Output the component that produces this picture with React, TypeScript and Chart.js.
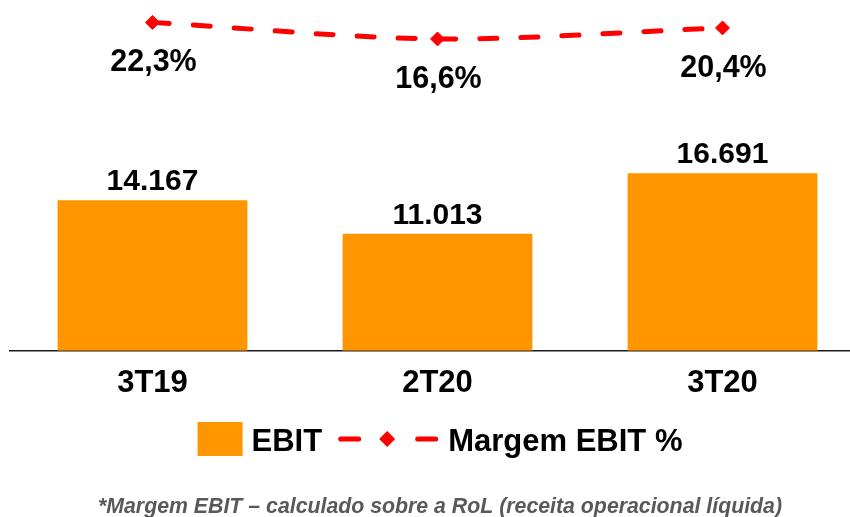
import React, { useEffect, useRef } from 'react';
import { Chart, registerables } from 'chart.js';

Chart.register(...registerables);

const categories = ['3T19', '2T20', '3T20'];
const ebitValues = [14167, 11013, 16691];
const marginValues = [22.3, 16.6, 20.4];
const ebitLabel = 'EBIT';
const marginLabel = 'Margem EBIT %';
const footnote = '*Margem EBIT – calculado sobre a RoL (receita operacional líquida)';

const ORANGE = '#FF9600';
const RED = '#FF0000';
const FONT = '"Liberation Sans", Arial, Helvetica, sans-serif';

function fmtThousands(v: number): string {
  return String(v).replace(/\B(?=(\d{3})+(?!\d))/g, '.');
}
function fmtPct(v: number): string {
  return v.toFixed(1).replace('.', ',') + '%';
}

const labelsPlugin = {
  id: 'valueLabels',
  afterDatasetsDraw(chart: any) {
    const ctx = chart.ctx;
    ctx.save();
    ctx.fillStyle = '#000';
    ctx.textAlign = 'center';
    ctx.textBaseline = 'alphabetic';
    ctx.font = `bold 30px ${FONT}`;
    const barMeta = chart.getDatasetMeta(0);
    barMeta.data.forEach((el: any, i: number) => {
      ctx.fillText(fmtThousands(ebitValues[i]), el.x, el.y - 10);
    });
    ctx.font = `bold 30.5px ${FONT}`;
    const lineMeta = chart.getDatasetMeta(1);
    lineMeta.data.forEach((el: any, i: number) => {
      ctx.fillText(fmtPct(marginValues[i]), el.x + 1, el.y + 49);
    });
    ctx.restore();
  },
};

const legendPlugin = {
  id: 'customLegend',
  afterDraw(chart: any) {
    const ctx = chart.ctx;
    const cx = 440;
    const cy = 439;
    ctx.save();
    ctx.font = `bold 31px ${FONT}`;
    const w1 = ctx.measureText(ebitLabel).width;
    const w2 = ctx.measureText(marginLabel).width;
    const boxW = 45, boxH = 34, gapA = 9, gapB = 16, symW = 100, gapC = 10;
    const total = boxW + gapA + w1 + gapB + symW + gapC + w2;
    let x = cx - total / 2;
    ctx.fillStyle = ORANGE;
    ctx.fillRect(x, cy - boxH / 2, boxW, boxH);
    x += boxW + gapA;
    ctx.fillStyle = '#000';
    ctx.textAlign = 'left';
    ctx.textBaseline = 'alphabetic';
    ctx.fillText(ebitLabel, x, cy + 11.5);
    x += w1 + gapB;
    ctx.strokeStyle = RED;
    ctx.lineWidth = 5;
    ctx.lineCap = 'round';
    ctx.beginPath();
    ctx.moveTo(x + 2.5, cy);
    ctx.lineTo(x + 20.5, cy);
    ctx.moveTo(x + symW - 20.5, cy);
    ctx.lineTo(x + symW - 2.5, cy);
    ctx.stroke();
    const dx = x + symW / 2 - 1;
    ctx.fillStyle = RED;
    ctx.beginPath();
    ctx.moveTo(dx - 8, cy);
    ctx.lineTo(dx, cy - 8);
    ctx.lineTo(dx + 8, cy);
    ctx.lineTo(dx, cy + 8);
    ctx.closePath();
    ctx.fill();
    x += symW + gapC;
    ctx.fillStyle = '#000';
    ctx.fillText(marginLabel, x, cy + 11.5);
    ctx.font = `italic bold 21.3px ${FONT}`;
    ctx.fillStyle = '#595959';
    ctx.textAlign = 'center';
    ctx.fillText(footnote, cx, 513);
    ctx.restore();
  },
};

export default function App() {
  const canvasRef = useRef<HTMLCanvasElement | null>(null);

  useEffect(() => {
    const canvas = canvasRef.current;
    if (!canvas) return;
    const chart = new Chart(canvas, {
      type: 'bar',
      data: {
        labels: categories,
        datasets: [
          {
            type: 'bar',
            label: ebitLabel,
            data: ebitValues,
            backgroundColor: ORANGE,
            borderWidth: 0,
            categoryPercentage: 1,
            barPercentage: 0.666,
            yAxisID: 'y',
            order: 2,
          },
          {
            type: 'line',
            label: marginLabel,
            data: marginValues,
            borderColor: RED,
            backgroundColor: RED,
            borderWidth: 5,
            borderDash: [17, 24],
            borderCapStyle: 'round',
            tension: 0.3,
            pointStyle: 'rectRot',
            pointRadius: 7,
            pointBorderWidth: 1,
            pointBorderColor: RED,
            pointBackgroundColor: RED,
            fill: false,
            clip: false,
            yAxisID: 'y1',
            order: 1,
          },
        ],
      },
      options: {
        responsive: false,
        animation: false,
        maintainAspectRatio: false,
        layout: { autoPadding: false, padding: { left: 10, right: 15, top: 0, bottom: 101 } },
        plugins: {
          legend: { display: false },
          tooltip: { enabled: false },
          title: { display: false },
        },
        scales: {
          x: {
            grid: { display: false, drawTicks: false },
            border: { display: true, color: '#1a1a1a', width: 1.5 },
            ticks: {
              color: '#000',
              padding: 14,
              font: { family: FONT, size: 31, weight: 'bold', lineHeight: 1.2 },
            },
          },
          y: {
            display: false,
            min: 0,
            max: 33000,
          },
          y1: {
            display: false,
            min: -90.7,
            max: 30,
          },
        },
      },
      plugins: [labelsPlugin, legendPlugin],
    });
    return () => chart.destroy();
  }, []);

  return (
    <div style={{ position: 'absolute', left: 0, top: 0, width: 850, height: 517, overflow: 'hidden', background: '#fff' }}>
      <canvas ref={canvasRef} width={880} height={517} style={{ width: 880, height: 517, display: 'block' }} />
    </div>
  );
}
